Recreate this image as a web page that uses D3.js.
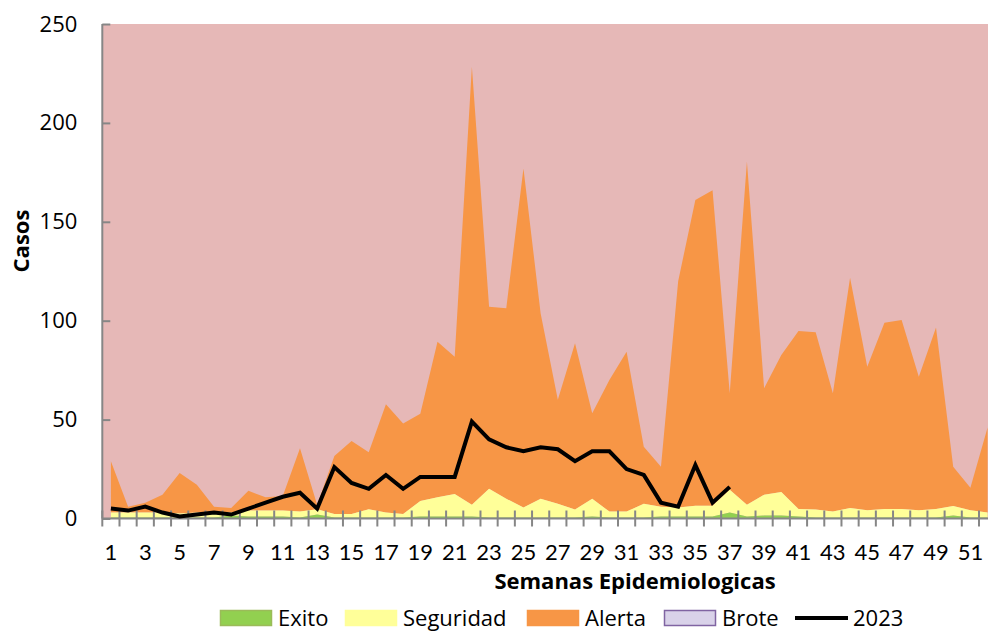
<!DOCTYPE html>
<html><head><meta charset="utf-8">
<script src="https://cdn.jsdelivr.net/npm/d3@7/dist/d3.min.js"></script>
<style>
html,body{margin:0;padding:0;background:#fff;}
svg{display:block;font-family:"Open Sans",Lato,sans-serif;}
</style></head>
<body>
<svg id="chart" width="988" height="633"></svg>
<script>
// ---- data ----
const weeks = d3.range(1, 53);
const exito = [0.5,0.5,0.5,0.5,0.5,0.5,0.5,1.5,1,1,1,0.5,2,0.5,0.5,0.5,0.5,0.5,1,1,1,1,0.5,0.5,0.5,0.5,0.5,0.5,1,0.5,0.5,0.5,1,1,1,1,3,1,1.5,1.5,1,0.5,0.5,0.5,0.5,0.5,0.5,0.5,0.5,1.5,0.5,0.5];
const seguridad = [2.5,2.5,2.5,2.5,2,2.5,2.5,1.5,3,3,3,3,2.7,1.8,1.8,4.2,2.5,1.8,7.8,9.7,11.4,6,14.5,9.5,5,9.5,7,4,9,3,3,7,5,4.5,5.5,5.5,11.5,6,10.5,11.9,3.8,4,3,4.8,3.7,4.3,4.3,3.7,4.3,4.8,3.7,2.5];
const alerta = [26,3,5,9,20.5,14,3,2.3,10,6.7,7.4,32,2.1,29.3,36.9,28.8,54.7,45.7,44.2,78.7,69.4,221.4,92,96.3,171.5,93.7,52.5,84.1,43.2,66.5,80.8,28.8,20.2,114.5,154.5,159.5,48.8,173.4,53.8,69.3,90,89.6,59.8,116.4,72.5,94.2,95.6,67.5,91.7,19.9,11.3,43];
const y2023 = [5,4,6,3,1,2,3,2,5,8,11,13,5,26,18,15,22,15,21,21,21,49,40,36,34,36,35,29,34,34,25,22,8,6,27,8,16];
const yTicks = [0,50,100,150,200,250];
const xTickLabels = weeks.filter(w => w % 2 === 1);
const seriesNames = ["Exito","Seguridad","Alerta","Brote","2023"];

// ---- layout ----
const svg = d3.select("#chart");
const L = 102.3, T = 24, B = 518.5, bandW = 17.19;
const FS = 22;
const x = d3.scaleBand().domain(weeks).range([L, L + bandW * weeks.length]).padding(0);
const cx = w => x(w) + x.bandwidth() / 2;
const y = d3.scaleLinear().domain([0, 250]).range([B, T]);

const colors = {Exito:"#92D050", Seguridad:"#FFFF99", Alerta:"#F79646", Brote:"#E6B8B7"};

// plot background (Brote zone)
svg.append("rect").attr("x", L).attr("y", T).attr("width", x.range()[1] - L).attr("height", B - T)
  .attr("fill", colors.Brote);

const table = weeks.map((w, i) => ({week: w, Exito: exito[i], Seguridad: seguridad[i], Alerta: alerta[i]}));
const stack = d3.stack().keys(["Exito","Seguridad","Alerta"])(table);
const area = d3.area().x(d => cx(d.data.week)).y0(d => y(d[0])).y1(d => y(d[1]));

svg.append("g").selectAll("path").data(stack.slice().reverse()).join("path")
  .attr("d", area).attr("fill", d => colors[d.key]);

// axes
const grey = "#868686";
const gx = svg.append("g").attr("transform", `translate(0,${B})`)
  .call(d3.axisBottom(x).tickValues([]).tickSize(0));
gx.select(".domain").attr("stroke", grey).attr("stroke-width", 2).attr("d", `M${L},0H${x.range()[1]}`);
const boundaries = weeks.map(w => x(w)).concat([x.range()[1]]);
gx.selectAll("line.tk").data(boundaries).join("line").attr("class","tk")
  .attr("x1", d => d).attr("x2", d => d).attr("y1", -8).attr("y2", 8)
  .attr("stroke", grey).attr("stroke-width", 2);
gx.selectAll("text.lbl").data(xTickLabels).join("text").attr("class","lbl")
  .attr("x", d => cx(d)).attr("y", 41.5).attr("text-anchor","middle")
  .attr("font-family","Lato,sans-serif")
  .attr("font-size", FS).attr("fill","#000").text(d => d);

const gy = svg.append("g").attr("transform", `translate(${L},0)`)
  .call(d3.axisLeft(y).tickValues(yTicks).tickSize(-8).tickPadding(25));
gy.select(".domain").attr("stroke", grey).attr("stroke-width", 2).attr("d", `M0,${T}V${B}`);
gy.selectAll(".tick line").attr("stroke", grey).attr("stroke-width", 2);
gy.selectAll(".tick text").attr("font-size", FS).attr("fill", "#000").attr("font-family","'Open Sans',sans-serif");

// 2023 line
const line = d3.line().x((d, i) => cx(weeks[i])).y(d => y(d));
svg.append("path").datum(y2023).attr("d", line).attr("fill","none")
  .attr("stroke","#000").attr("stroke-width", 4).attr("stroke-linejoin","miter");

// titles
svg.append("text").attr("x", 635).attr("y", 588.5).attr("text-anchor","middle")
  .attr("font-size", FS).attr("font-weight","bold").text("Semanas Epidemiologicas");
svg.append("text").attr("transform","translate(29,241) rotate(-90)").attr("text-anchor","middle")
  .attr("font-size", FS).attr("font-weight","bold").text("Casos");

// legend
const legX = [220, 345, 527, 664, 795];
const legY = 618;
const lg = svg.append("g");
seriesNames.forEach((name, i) => {
  const g = lg.append("g").attr("transform", `translate(${legX[i]},${legY})`);
  if (name === "2023") {
    g.append("line").attr("x1", 0).attr("x2", 53).attr("y1", 0).attr("y2", 0)
      .attr("stroke","#000").attr("stroke-width", 4);
  } else {
    const fill = name === "Brote" ? "#D9D2E9" : colors[name];
    const stroke = name === "Brote" ? "#8064A2" : (name === "Exito" ? "#9BBB59" : colors[name]);
    g.append("rect").attr("x", 0.5).attr("y", -7.5).attr("width", 51).attr("height", 15)
      .attr("fill", fill).attr("stroke", stroke).attr("stroke-width", 1.5);
  }
  g.append("text").attr("x", 58).attr("y", 8).attr("font-size", FS).attr("fill","#000").text(name);
});
</script>
</body></html>
